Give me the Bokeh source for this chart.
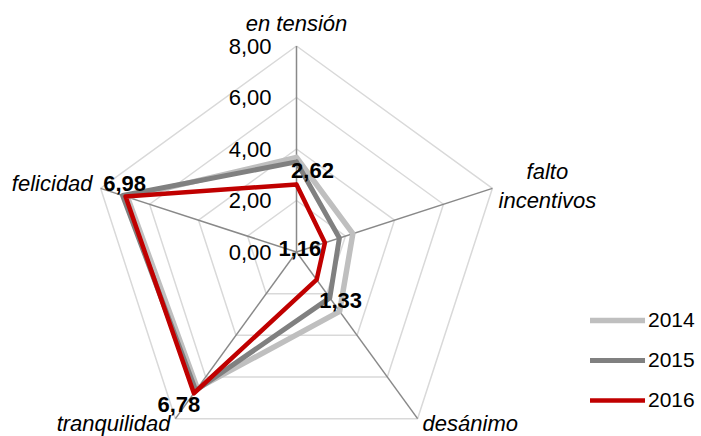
import numpy as np
from bokeh.plotting import figure
from bokeh.models import Range1d, Legend, LegendItem
from bokeh.core.properties import value
from bokeh.embed import file_html
from bokeh.resources import INLINE

# ---- data ----
categories = ["en tensión", "falto\nincentivos", "desánimo", "tranquilidad", "felicidad"]
years = ["2014", "2015", "2016"]
v2014 = [3.67, 2.30, 2.85, 6.55, 6.90]
v2015 = [3.50, 1.75, 2.20, 6.65, 7.10]
v2016 = [2.62, 1.16, 1.33, 6.78, 6.98]
ticks = [0, 2, 4, 6, 8]
tick_labels = ["0,00", "2,00", "4,00", "6,00", "8,00"]

# ---- layout ----
W, H = 701, 436
PX = 25.75            # pixels per unit of radius
CX, CY = 296, 251.5   # centre of the radar in figure pixels
RMAX = 8

FONT = "Liberation Sans"

p = figure(width=W, height=H, output_backend="svg", toolbar_location=None,
           x_axis_type=None, y_axis_type=None, min_border=0,
           x_range=Range1d(-CX / PX, (W - CX) / PX),
           y_range=Range1d(-(H - CY) / PX, CY / PX),
           outline_line_color=None, background_fill_color="white",
           border_fill_color="white")
p.grid.visible = False

n = len(categories)
theta = np.pi / 2 - np.arange(n) * 2 * np.pi / n
cos_t, sin_t = np.cos(theta), np.sin(theta)


def closed(vals):
    v = np.asarray(vals, dtype=float)
    xs = v * cos_t
    ys = v * sin_t
    return list(xs) + [xs[0]], list(ys) + [ys[0]]


# grid pentagons
for lev in ticks[1:]:
    gx, gy = closed([lev] * n)
    p.line(gx, gy, line_color="#D9D9D9", line_width=1.5)

# spokes
p.segment(x0=[0] * n, y0=[0] * n, x1=list(RMAX * cos_t), y1=list(RMAX * sin_t),
          line_color="#898989", line_width=1.5)

# series
colors = ["#BFBFBF", "#808080", "#C00000"]
widths = [5.5, 5.0, 4.5]
renderers = []
for vals, c, w in zip([v2014, v2015, v2016], colors, widths):
    sx, sy = closed(vals)
    r = p.line(sx, sy, line_color=c, line_width=w, line_join="round", line_cap="round")
    renderers.append(r)

# radial tick labels
p.text(x=[0] * len(ticks), y=ticks, text=tick_labels, x_offset=-25,
       text_align="right", text_baseline="middle",
       text_font=value(FONT), text_font_size="22px", text_color="black")

# category labels
cat_x = list(RMAX * cos_t)
cat_y = list(RMAX * sin_t)
cat_align = ["center", "center", "left", "right", "right"]
cat_dx = [0, 55, 5, -5, -8]
cat_dy = [-23, -2, 5, 5, -5]
p.text(x=cat_x, y=cat_y, text=categories, x_offset=cat_dx, y_offset=cat_dy,
       text_align=cat_align, text_baseline="middle",
       text_font=value(FONT), text_font_style="italic", text_font_size="22px",
       text_color="black", text_line_height=1.15)

# data labels for 2016
lab_vals = np.asarray(v2016)
lab_text = [f"{v:.2f}".replace(".", ",") for v in v2016]
lab_dx = [16, -25, 24, -15, -1]
lab_dy = [-14, 6, 21, 11, -13]
p.text(x=list(lab_vals * cos_t), y=list(lab_vals * sin_t), text=lab_text,
       x_offset=lab_dx, y_offset=lab_dy, text_align="center", text_baseline="middle",
       text_font=value(FONT), text_font_style="bold", text_font_size="22px",
       text_color="black")

legend = Legend(items=[LegendItem(label=y, renderers=[r]) for y, r in zip(years, renderers)],
                location=(590, 21), orientation="vertical",
                glyph_width=55, glyph_height=30, label_height=30, label_width=40,
                spacing=10, padding=0, margin=0, label_standoff=3,
                border_line_alpha=0, background_fill_alpha=0,
                label_text_font=FONT, label_text_font_size="21px",
                label_text_color="black", label_text_baseline="middle")
p.add_layout(legend)

open("out.html", "w").write(file_html(p, INLINE))
